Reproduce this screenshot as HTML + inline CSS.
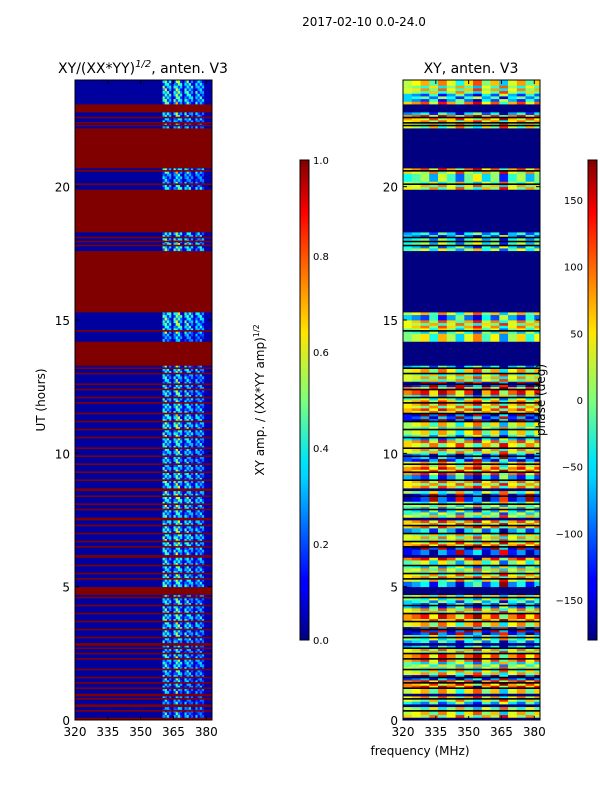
<!DOCTYPE html>
<html><head><meta charset="utf-8">
<style>
body{margin:0;background:#fff;width:600px;height:800px;overflow:hidden;font-family:"DejaVu Sans","Liberation Sans",sans-serif}
svg{position:absolute;left:0;top:0}
text{font-family:"DejaVu Sans","Liberation Sans",sans-serif;fill:#000}
</style></head>
<body>
<svg id="fig" width="600" height="800" viewBox="0 0 600 800">
<defs>
<linearGradient id="jet" x1="0" y1="1" x2="0" y2="0">
<stop offset="0" stop-color="#000080"/><stop offset="0.11" stop-color="#0000ff"/><stop offset="0.125" stop-color="#0000ff"/>
<stop offset="0.34" stop-color="#00d4ff"/><stop offset="0.375" stop-color="#00e5f7"/><stop offset="0.5" stop-color="#7dff7a"/>
<stop offset="0.64" stop-color="#ffe600"/><stop offset="0.66" stop-color="#ffd400"/><stop offset="0.89" stop-color="#ff0000"/><stop offset="1" stop-color="#800000"/>
</linearGradient>
<clipPath id="clipL"><rect x="75" y="80" width="137" height="640"/></clipPath>
<clipPath id="clipR"><rect x="403" y="80" width="137" height="640"/></clipPath>
</defs>
<text x="364" y="26" font-size="12" text-anchor="middle">2017-02-10 0.0-24.0</text>
<text x="143" y="73" font-size="14" text-anchor="middle">XY/(XX*YY)<tspan font-size="10" dy="-6" font-style="italic">1/2</tspan><tspan dy="6">, anten. V3</tspan></text>
<text x="471" y="73" font-size="14" text-anchor="middle">XY, anten. V3</text>
<g id="left" clip-path="url(#clipL)"></g>
<g id="right" clip-path="url(#clipR)"></g>
<rect x="75" y="80" width="137" height="640" fill="none" stroke="#000" stroke-width="1"/>
<rect x="403" y="80" width="137" height="640" fill="none" stroke="#000" stroke-width="1"/>
<g id="axes"></g>
<text transform="translate(45,400) rotate(-90)" font-size="12" text-anchor="middle">UT (hours)</text>
<text x="420" y="755" font-size="12" text-anchor="middle">frequency (MHz)</text>
<rect x="300" y="160" width="9" height="480" fill="url(#jet)" stroke="#000" stroke-width="1"/>
<rect x="588" y="160" width="9" height="480" fill="url(#jet)" stroke="#000" stroke-width="1"/>
<text transform="translate(264,400) rotate(-90)" font-size="12" text-anchor="middle">XY amp. / (XX*YY amp)<tspan font-size="8" dy="-5">1/2</tspan></text>
<text transform="translate(545,400) rotate(-90)" font-size="12" text-anchor="middle">phase (deg)</text>
</svg>
<script>
const NS="http://www.w3.org/2000/svg";
const hours=[0,5,10,15,20];
const freqTicks=[320,335,350,365,380];
const ampTicks=["0.0","0.2","0.4","0.6","0.8","1.0"];
const ampTickVals=[0,0.2,0.4,0.6,0.8,1.0];
const phaseTicks=[-150,-100,-50,0,50,100,150];
const redBands=[[22.8,23.15],[20.75,22.2],[18.3,19.95],[15.3,17.6],[13.3,14.25],[8.65,8.75],[7.55,7.65],[6.15,6.25],[4.75,5.0],[2.85,2.95],[0.9,1.0],[0.5,0.6],[0.05,0.15]];
const thinLines=[22.6,22.4,22.3,20.6,20.1,18.1,17.95,17.8,14.6,13.2,13.0,12.6,12.4,12.1,11.9,11.5,11.2,10.9,10.6,10.2,9.9,9.6,9.3,9.0,8.4,8.1,7.9,7.3,7.0,6.7,6.5,5.8,5.5,5.3,4.6,4.3,4.0,3.7,3.4,3.1,2.7,2.5,2.3,1.9,1.6,1.4,1.2,0.8,0.35];
const colProfile=[0,0,0,0,0,0,0,0,0,0,0,0,0,0,0,0,0,0,0,0,0,0,0,0,0,0,0,0,0,0,0,0,0,0,0,0,0,0,0,0,0.6,0.7,0.55,0.5,0.1,0.55,0.8,0.7,0.5,0.1,0.55,0.6,0.5,0.45,0.1,0.5,0.45,0.5,0.4,0.08,0.08,0.08,0.08,0.08];
const stripeAmp=[0.6,0.55,0.6,0.65,0.7,0.6,0.7,0.75,0.7,0.65,0.75,0.7,0.7,0.8,0.75,0.7,0.8,0.75,0.7,0.65,0.7,0.75,0.8,0.7,0.7,0.65,0.7,0.6,0.55,0.8,0.85,0.8,0.7,0.7,0.7,0.8,0.75,0.75,0.7,0.8,0.6,0.8,0.7,0.75,0.6,0.7,0.8,0.8];
const rowMod=[1.0,0.4,0.8,0.55,1.1,0.3,0.7,0.9,0.45,1.0,0.6,0.35,0.85];
const phaseRows=[60,20,-40,40,20,90,-120,30,-10,70,40,-80,10,-150,30,80,40,-60,10,60,-100,50,20,-20,90,-140,70,30,-90,60,40,-30,0,-160,20,50,-70,80,30,-110,40,60,-50,10,10,-130,70,50,-20,90,-150,30,30,-80,60,40,-110,0,-10,40,-60,20,70,-120,60,10,-30,50,-90,50,-20,-40,-60,-80,-30,-50,-20,-70,0,50,20,-40,60,40,-30,20,90,-150,20,40,80,-90,60,-60,30,20];
const phaseCols=[0,40,90,-60,120,30,-100,60,150,-30,80,-140,20,100,-50,70];
const rowFlip=[1,-1,1,1,-1,1,-1,-1,1,-1,1,1];
const T0=0,T1=24,F0=320,F1=382.6;
const yS=h=>720-(h-T0)/(T1-T0)*640;
const xL=f=>75+(f-F0)/(F1-F0)*137;
const xR=f=>403+(f-F0)/(F1-F0)*137;
function jet(v){v=Math.max(0,Math.min(1,v));
 const r=Math.min(4*v-1.5,-4*v+4.5),g=Math.min(4*v-0.5,-4*v+3.5),b=Math.min(4*v+0.5,-4*v+2.5);
 const c=x=>Math.round(255*Math.max(0,Math.min(1,x)));return `rgb(${c(r)},${c(g)},${c(b)})`;}
function flagged(h){return redBands.some(b=>h>=b[0]&&h<b[1]);}
const L=document.getElementById('left'),R=document.getElementById('right');
function rect(p,x,y,w,h,f,name){const e=document.createElementNS(NS,'rect');
 e.setAttribute('x',x.toFixed(2));e.setAttribute('y',y.toFixed(2));e.setAttribute('width',(w+0.4).toFixed(2));e.setAttribute('height',(h+0.4).toFixed(2));e.setAttribute('fill',f);
 
 
 p.appendChild(e);return e;}
const dt=0.1;
for(let i=0;i<240;i++){const h0=i*dt,h=h0+dt/2;const y=yS(h0+dt),hh=yS(h0)-yS(h0+dt);
 if(flagged(h)){rect(L,75,y,137,hh,'#800000','flagged-row');rect(R,403,y,137,hh,'#000080','flagged-row');continue;}
 const amp=stripeAmp[Math.floor(h/0.5)];
 rect(L,75,y,xL(360)-75,hh,jet(0.03),'amp-base-cell');
 for(let c=40;c<63;c++){const v=Math.max(0.04,colProfile[c]*amp*rowMod[(i+c)%rowMod.length]);
  rect(L,xL(F0+c),y,xL(F0+c+1)-xL(F0+c),hh,jet(v),'amp-cell');}
 const pr=phaseRows[Math.floor(h/0.25)],fl=rowFlip[i%rowFlip.length];
 for(let c=0;c<16;c++){let p=pr+fl*phaseCols[c]*0.6;p=((p+180)%360+360)%360-180;
  rect(R,xR(F0+c*4),y,xR(F0+c*4+4)-xR(F0+c*4),hh,jet((p+180)/360),'phase-cell');}
}
thinLines.forEach(t=>{rect(L,75,yS(t)-0.6,137,1.2,'#800000','flag-line');rect(R,403,yS(t)-0.6,137,1.2,'#000000','flag-line');});
const A=document.getElementById('axes');
function txt(x,y,s,size,anchor,name){const e=document.createElementNS(NS,'text');e.setAttribute('x',x);e.setAttribute('y',y);e.setAttribute('font-size',size);e.setAttribute('text-anchor',anchor);e.textContent=s;
 
 
 A.appendChild(e);}
function line(x1,y1,x2,y2){const e=document.createElementNS(NS,'line');e.setAttribute('x1',x1);e.setAttribute('y1',y1);e.setAttribute('x2',x2);e.setAttribute('y2',y2);e.setAttribute('stroke','#000');
 
 
 A.appendChild(e);}
hours.forEach(h=>{const y=yS(h);txt(70,y+5,String(h),12,'end','y-tick-label');txt(398,y+5,String(h),12,'end','y-tick-label');
 line(75,y,79,y);line(208,y,212,y);line(403,y,407,y);line(536,y,540,y);});
freqTicks.forEach(f=>{txt(xL(f),736,String(f),12,'middle','x-tick-label');txt(xR(f),736,String(f),12,'middle','x-tick-label');
 line(xL(f),720,xL(f),716);line(xL(f),80,xL(f),84);line(xR(f),720,xR(f),716);line(xR(f),80,xR(f),84);});
ampTickVals.forEach((v,i)=>{const y=640-v*480;txt(313,y+4,ampTicks[i],10,'start','amp-colorbar-tick');line(305,y,309,y);});
phaseTicks.forEach(p=>{const y=640-(p+180)/360*480;txt(583,y+4,String(p).replace('-','\u2212'),10,'end','phase-colorbar-tick');line(593,y,597,y);});
</script>
</body></html>
